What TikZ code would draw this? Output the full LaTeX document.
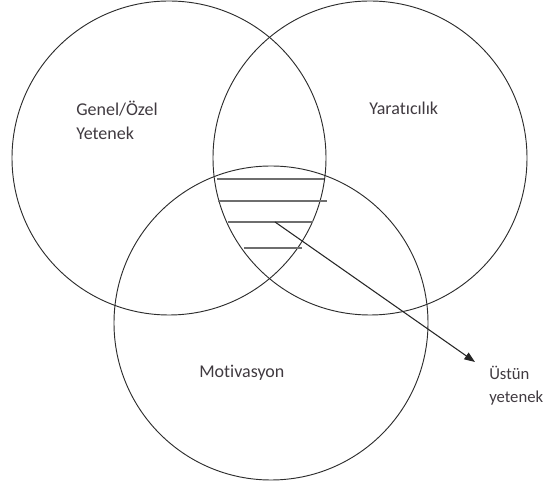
\documentclass[tikz,border=0pt]{standalone}
\usepackage{fontspec}
\setmainfont{Carlito}[Ligatures=NoCommon]
\definecolor{RingGray}{RGB}{45,45,45}
\definecolor{HatchGray}{RGB}{110,110,110}
\definecolor{LabelGray}{RGB}{64,58,64}
\usetikzlibrary{arrows.meta}

\begin{document}
\begin{tikzpicture}[x=0.75pt,y=-0.75pt,
	lbl/.style={text=LabelGray,font=\fontsize{13.5}{18.5}\selectfont,inner sep=0pt}]
\useasboundingbox (0,0) rectangle (547,484);
\foreach \cx/\cy in {169/158,370/158,271/323}{
	\draw[RingGray,line width=0.7pt] (\cx,\cy) circle[radius=157];
}
\foreach \y/\a/\b in {179/217/324,201/218/327,222/228/313,248/244/302}{
	\draw[HatchGray,line width=1.2pt] (\a,\y) -- (\b,\y);
}
\coordinate (start) at (275,222);
\coordinate (tip) at (475,362);
\draw[black!85,line width=0.8pt,-{Triangle[length=8pt,width=6pt]}] (start) -- (tip);
% base anchor sits on the last line
\node[lbl,align=left,anchor=base west] (genel) at (76,140) {Genel/Özel\\Yetenek};
\node[lbl,anchor=base west] (yarat) at (369,115) {Yaratıcılık};
\node[lbl,anchor=base west] (motiv) at (199,378) {Motivasyon};
\node[lbl,font=\fontsize{12.5}{17.5}\selectfont,align=left,anchor=base west] (ustun) at (489,403) {Üstün\\yetenek};
\end{tikzpicture}
\end{document}
